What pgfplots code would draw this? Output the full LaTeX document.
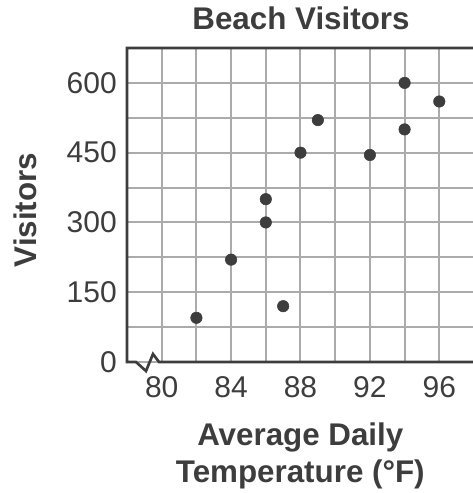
\documentclass[border=0pt]{standalone}
\usepackage{fontspec}
\setmainfont{Liberation Sans}
\usepackage{pgfplots}
\pgfplotsset{compat=1.18}
\definecolor{ink}{HTML}{3D3D3D}
\definecolor{gridgray}{HTML}{ABABAB}
\begin{document}
\begin{tikzpicture}
\begin{axis}[
  scale only axis,
  width=260.25pt, height=235.5pt,
  at={(0,0)}, anchor=south west,
  xmin=78, xmax=98, ymin=0, ymax=675,
  xtick={80,84,88,92,96},
  minor xtick={82,86,90,94,98},
  ytick={0,150,300,450,600},
  yticklabels={\raisebox{-7.5pt}{0},150,300,450,600},
  minor ytick={75,225,375,525},
  grid=both,
  grid style={gridgray, line width=1.5pt},
  minor grid style={gridgray, line width=1.5pt},
  major tick length=0pt, minor tick length=0pt,
  axis line style={draw=none},
  /pgf/number format/assume math mode=true,
  ticklabel style={font=\fontsize{22.5}{25}\selectfont, text=ink},
  xticklabel style={anchor=center, yshift=-18.75pt},
  yticklabel style={anchor=east, inner sep=0pt, xshift=-7.5pt},
  clip=false,
]
\addplot[only marks, mark=*, mark size=4.3pt, color=ink] coordinates {
  (82,95) (84,220) (86,350) (86,300) (87,120) (88,450)
  (89,520) (92,445) (94,600) (94,500) (96,560)
};
\end{axis}
% axis frame with break on the x axis
\draw[ink, line width=2pt, line cap=rect] (262pt,235.5pt) -- (0,235.5pt) -- (0,0) -- (6.75pt,0)
  -- (14.25pt,-6.75pt) -- (19.5pt,6pt) -- (24pt,0) -- (262pt,0);
\node[font=\bfseries\fontsize{23.5}{26}\selectfont, text=ink] at (130.5pt,258pt) {Beach Visitors};
\node[font=\bfseries\fontsize{23.5}{26}\selectfont, text=ink, rotate=90] at (-76.5pt,114pt) {Visitors};
\node[font=\bfseries\fontsize{23.5}{26}\selectfont, text=ink, anchor=base] at (130pt,-62.25pt) {Average Daily};
\node[font=\bfseries\fontsize{23.5}{26}\selectfont, text=ink, anchor=base] at (130pt,-90pt) {Temperature (°F)};
\pgfresetboundingbox
\path (-95.25pt,-98.25pt) rectangle (258.75pt,271.5pt);
\end{tikzpicture}
\end{document}
